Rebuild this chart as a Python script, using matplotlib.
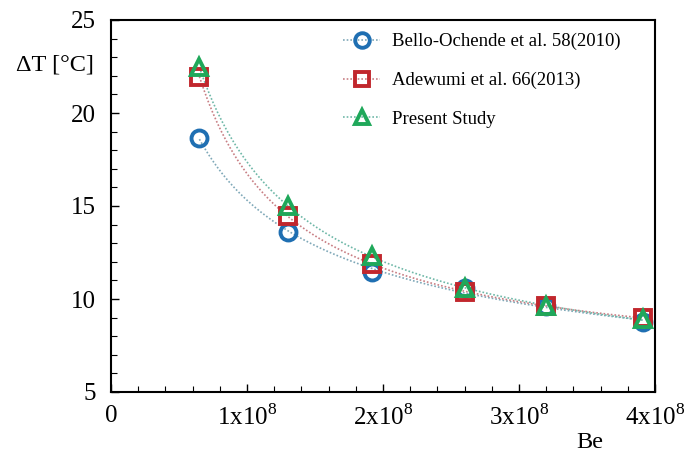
import numpy as np
import matplotlib
matplotlib.use("Agg")
import matplotlib.pyplot as plt
from matplotlib.ticker import MultipleLocator, FixedLocator

be = [0.65e8, 1.3e8, 1.92e8, 2.6e8, 3.2e8, 3.91e8]
bello = [18.65, 13.6, 11.45, 10.6, 9.6, 8.75]
adewumi = [21.95, 14.45, 11.9, 10.4, 9.6, 9.0]
present = [22.45, 15.0, 12.3, 10.6, 9.6, 8.9]
labels = ["Bello-Ochende et al. 58(2010)", "Adewumi et al. 66(2013)", "Present Study"]
xticklabels = ["0", r"1x10$^{8}$", r"2x10$^{8}$", r"3x10$^{8}$", r"4x10$^{8}$"]

plt.rcParams['font.family'] = ['Liberation Serif', 'DejaVu Serif']
plt.rcParams['mathtext.fontset'] = 'custom'
plt.rcParams['mathtext.rm'] = 'Liberation Serif'

fig = plt.figure(figsize=(6.9, 4.59), dpi=100)
ax = fig.add_axes([111/690, 1-392/459, (655-111)/690, (392-20)/459])

colors = ["#1f6fb2", "#c1272d", "#1fa85a"]
linecolors = ["#7fa8b8", "#c87f84", "#6fb8a8"]
markers = ["o", "s", "^"]
xs = np.linspace(min(be), max(be), 200)
for y, lab, c, lc, m in zip([bello, adewumi, present], labels, colors, linecolors, markers):
    p = np.polyfit(np.log(be), np.log(y), 2)
    ys = np.exp(np.polyval(p, np.log(xs)))
    ax.plot(xs, ys, ls=(0, (1, 1.2)), color=lc, lw=1.2, zorder=2)
    ax.plot(be, y, ls='none', marker=m, ms=11.5, mfc='none', mec=c, mew=2.8, zorder=3)
    ax.plot([], [], ls=(0, (1, 1.2)), color=lc, lw=1.2, marker=m, ms=10.5, mfc='none', mec=c, mew=2.8, label=lab)

ax.set_xlim(0, 4e8)
ax.set_ylim(5, 25)
ax.xaxis.set_major_locator(FixedLocator([0, 1e8, 2e8, 3e8, 4e8]))
ax.set_xticklabels(xticklabels)
ax.xaxis.set_minor_locator(MultipleLocator(0.2e8))
ax.yaxis.set_major_locator(MultipleLocator(5))
ax.yaxis.set_minor_locator(MultipleLocator(1))
ax.tick_params(which='both', direction='in', top=False, right=False, labelsize=18)
ax.tick_params(which='major', length=6, width=1)
ax.tick_params(which='minor', length=4, width=0.8)
ax.tick_params(axis='x', pad=9)
ax.tick_params(axis='y', pad=11)
for s in ax.spines.values():
    s.set_linewidth(1.5)

fig.text(94/690, 1-65/459, "ΔT [°C]", fontsize=17.5, ha='right', va='center')
fig.text(590/690, 1-442/459, "Be", fontsize=17.5, ha='center', va='center')

leg = ax.legend(loc='upper left', bbox_to_anchor=(0.395, 1.01), frameon=False, fontsize=13.5,
                handlelength=2.0, labelspacing=1.15, handletextpad=0.6)

fig.savefig("out.png", dpi=100)
